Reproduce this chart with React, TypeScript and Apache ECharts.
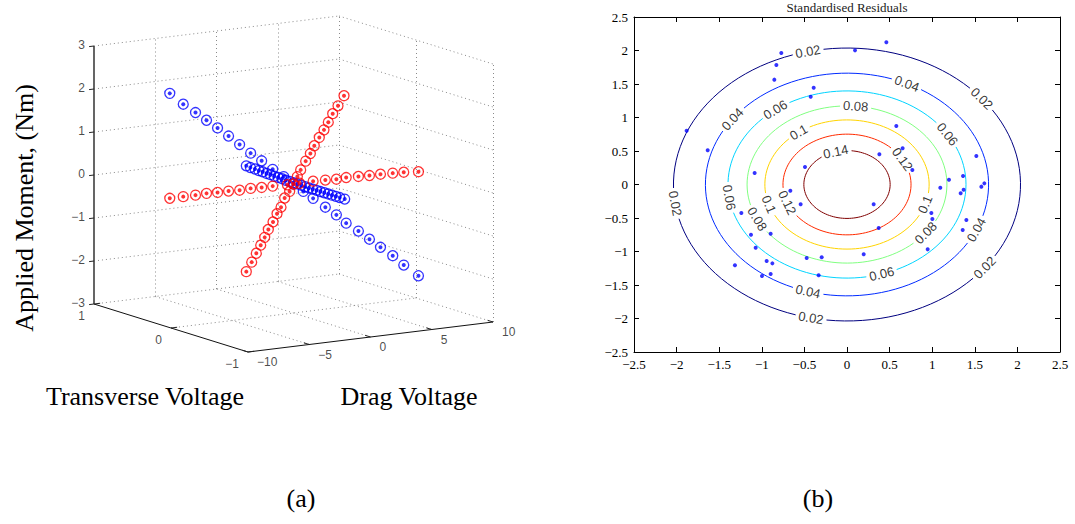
import React, { useEffect, useRef } from "react";
import * as echarts from "echarts";

// ---------------- Panel (a): 3-D calibration data ----------------
const zTicks = [-3, -2, -1, 0, 1, 2, 3];
const dragTicks = [-10, -5, 0, 5, 10];
const transTicks = [-1, 0, 1];

// red: drag-voltage sweep (moment ~ 0)
const redDragSweepDrag = [-10.1, -9.0, -8.0, -7.1, -6.2, -5.3, -4.4, -3.5, -2.6, -1.7, 1.6, 2.6, 3.5, 4.3, 5.3, 6.2, 7.1, 8.1, 9.0, 10.2];
const redDragSweepZ = [0.02, 0.02, 0.02, 0.03, 0.02, 0.02, 0.01, 0.02, 0.01, 0.01, 0.01, 0, -0.01, 0, -0.01, -0.02, -0.02, -0.03, -0.04, -0.07];
// red: transverse-voltage sweep
const redTransSweepTrans = [0.613, 0.543, 0.483, 0.426, 0.374, 0.327, 0.266, 0.214, 0.162, 0.115, -0.093, -0.158, -0.219, -0.27, -0.335, -0.396, -0.452, -0.509, -0.578, -0.656];
const redTransSweepZ = [-2.38, -2.12, -1.88, -1.66, -1.45, -1.24, -1.03, -0.81, -0.63, -0.39, 0.38, 0.62, 0.83, 1.04, 1.27, 1.48, 1.69, 1.92, 2.14, 2.42];
// red: points near the origin
const redCentreDrag = [-0.5, 0, 0.5, 0, 0];
const redCentreTrans = [0, 0, 0, 0.05, -0.05];
const redCentreZ = [0, 0, 0, -0.2, 0.2];

// blue: drag-voltage sweep
const blueDragSweepDrag = [-10.1, -9.0, -8.0, -7.1, -6.2, -5.3, -4.4, -3.5, -2.6, -1.7, -0.8, 0, 0.8, 1.6, 2.6, 3.5, 4.3, 5.3, 6.2, 7.1, 8.1, 9.0, 10.2];
const blueDragSweepZ = [2.46, 2.17, 1.94, 1.73, 1.52, 1.3, 1.07, 0.84, 0.63, 0.4, 0.2, 0, -0.2, -0.39, -0.63, -0.84, -1.06, -1.28, -1.5, -1.72, -1.95, -2.2, -2.49];
// blue: transverse-voltage sweep (moment ~ 0)
const blueTransSweepTrans = [0.613, 0.56, 0.5, 0.45, 0.4, 0.35, 0.3, 0.25, 0.2, 0.15, 0.1, 0.05, 0, -0.05, -0.1, -0.15, -0.2, -0.25, -0.3, -0.35, -0.4, -0.45, -0.5, -0.55, -0.6, -0.665];
const blueTransSweepZ = [0.08, 0.07, 0.07, 0.06, 0.06, 0.05, 0.05, 0.04, 0.04, 0.04, 0.03, 0.03, 0.03, 0.03, 0.03, 0.02, 0.02, 0.02, 0.02, 0.02, 0.02, 0.02, 0.02, 0.02, 0.02, 0.02];

// ---------------- Panel (b): standardised residuals ----------------
const levels = [0.02, 0.04, 0.06, 0.08, 0.1, 0.12, 0.14];
const levelColors = ["#000080", "#002bff", "#00d4ff", "#80ff80", "#ffd400", "#ff2b00", "#800000"];
const labelAngles = [
  [103, 39, 188, 258, 322.5],
  [65, 144, 254, 336],
  [127, 32.5, 188, 287],
  [85, 206, 322],
  [126, 342, 198],
  [30, 201],
  [105],
];
const residX = [-0.771, -0.829, -0.853, -0.391, -0.426, 0.094, 0.462, -1.882, -1.635, 0.579, 0.653, 0.38, -0.493, 0.767, -1.084, -0.665, -0.544, 0.313, 0.372, -1.24, -1.127, -0.896, -1.072, -1.315, -0.943, -0.876, -0.998, -0.896, -0.473, -0.297, -0.333, 0.196, 0.947, 0.99, 1.002, 1.095, 1.197, 1.362, 1.369, 1.334, 1.518, 1.577, 1.612, 1.401, 1.358];
const residY = [1.963, 1.784, 1.565, 1.445, 1.311, 2.002, 2.122, 0.803, 0.51, 0.873, 0.54, 0.45, 0.261, 0.216, 0.172, -0.092, -0.296, -0.296, -0.649, -0.425, -0.749, -0.734, -0.943, -1.206, -1.142, -1.177, -1.366, -1.336, -1.097, -1.087, -1.356, -1.042, -0.968, -0.425, -0.515, -0.047, 0.072, 0.127, -0.077, -0.132, 0.425, -0.032, 0.017, -0.53, -0.679];
const resTicks = [-2.5, 2.5, 0.5]; // min, max, step

// ---------------- layout constants ----------------
const LEFT_W = 540;
const PAGE_H = 524;
const G1 = { left: 634, top: 17, width: 426, height: 335 };

// orthographic camera for the 3-D box: pixel position of corner (drag=-10, trans=1, z=-3)
// and screen vectors spanning the full drag range, trans 1 -> -1, and the full z range
const CAM = { ox: 94, oy: 304, drag: [245, -30], trans: [154, 48], z: [0, -258] };
const proj = (d: number, t: number, z: number): number[] => {
  const fd = (d + 10) / 20, ft = (1 - t) / 2, fz = (z + 3) / 6;
  return [
    CAM.ox + fd * CAM.drag[0] + ft * CAM.trans[0] + fz * CAM.z[0],
    CAM.oy + fd * CAM.drag[1] + ft * CAM.trans[1] + fz * CAM.z[1],
  ];
};

const fmtMinus = (v: number) => (v < 0 ? "\u2212" + Math.abs(v) : String(v));

export default function App() {
  const ref = useRef<HTMLDivElement>(null);
  useEffect(() => {
    if (!ref.current) return;
    const chart = echarts.init(ref.current, undefined, { renderer: "svg" });

    // ---- 3-D box lines ----
    const seg = (a: number[], b: number[]) => ({ coords: [proj(a[0], a[1], a[2]), proj(b[0], b[1], b[2])] });
    const dotted: any[] = [];
    zTicks.forEach((z) => {
      dotted.push(seg([-10, 1, z], [10, 1, z]));
      dotted.push(seg([10, 1, z], [10, -1, z]));
    });
    dragTicks.filter((d) => d > -10).forEach((d) => {
      dotted.push(seg([d, 1, -3], [d, 1, 3]));
      if (d < 10) dotted.push(seg([d, 1, -3], [d, -1, -3]));
    });
    transTicks.filter((t) => t < 1).forEach((t) => {
      dotted.push(seg([10, t, -3], [10, t, 3]));
      if (t > -1) dotted.push(seg([-10, t, -3], [10, t, -3]));
    });
    const axesSolid = [seg([-10, 1, -3], [-10, -1, -3]), seg([-10, -1, -3], [10, -1, -3])];
    const zAxisLine = [seg([-10, 1, -3], [-10, 1, 3])];
    const ticks: any[] = [];
    zTicks.forEach((z) => ticks.push(seg([-10.4, 1, z], [-10, 1, z])));
    transTicks.forEach((t) => ticks.push(seg([-10, t, -3], [-9.5, t, -3])));
    dragTicks.forEach((d) => ticks.push(seg([d, -1, -3], [d, -0.93, -3])));

    const tickLabels: any[] = [];
    zTicks.forEach((z) => tickLabels.push({ value: proj(-10, 1, z), label: { formatter: fmtMinus(z), align: "right", offset: [-9, -1] } }));
    transTicks.forEach((t) => tickLabels.push({ value: proj(-10, t, -3), label: { formatter: fmtMinus(t), align: "right", offset: [-9, 12] } }));
    dragTicks.forEach((d) => tickLabels.push({ value: proj(d, -1, -3), label: { formatter: fmtMinus(d), align: "left", offset: [9, 10] } }));

    const pts = (ds: number[], ts: number[], zs: number[]) => ds.map((d, i) => proj(d, ts[i], zs[i]));
    const zeros = (n: number) => new Array(n).fill(0);
    const bluePts = [
      ...pts(blueDragSweepDrag, zeros(blueDragSweepDrag.length), blueDragSweepZ),
      ...pts(zeros(blueTransSweepTrans.length), blueTransSweepTrans, blueTransSweepZ),
    ];
    const redPts = [
      ...pts(redDragSweepDrag, zeros(redDragSweepDrag.length), redDragSweepZ),
      ...pts(zeros(redTransSweepTrans.length), redTransSweepTrans, redTransSweepZ),
      ...pts(redCentreDrag, redCentreTrans, redCentreZ),
    ];

    // ---- contours of the standard bivariate normal density ----
    const sx = G1.width / (resTicks[1] - resTicks[0]);
    const sy = G1.height / (resTicks[1] - resTicks[0]);
    const contourLines: any[] = [];
    const contourLabels: any[] = [];
    levels.forEach((L, li) => {
      const r = Math.sqrt(-2 * Math.log(2 * Math.PI * L));
      const text = String(L);
      const digits = text.replace(".", "").length;
      const halfW = (digits * 7.23 + 3.61) / 2 + 3;
      const gaps = labelAngles[li]
        .map((a) => ((a % 360) + 360) % 360)
        .sort((a, b) => a - b)
        .map((a) => {
          const th = (a * Math.PI) / 180;
          const speed = r * Math.sqrt(Math.pow(Math.sin(th) * sx, 2) + Math.pow(Math.cos(th) * sy, 2));
          return { th, del: halfW / speed };
        });
      gaps.forEach((g, gi) => {
        const next = gaps[(gi + 1) % gaps.length];
        const a0 = g.th + g.del;
        let a1 = next.th - next.del;
        if (a1 <= a0) a1 += 2 * Math.PI;
        const n = Math.max(2, Math.ceil((a1 - a0) / (Math.PI / 60)));
        const coords: number[][] = [];
        for (let k = 0; k <= n; k++) {
          const a = a0 + ((a1 - a0) * k) / n;
          coords.push([r * Math.cos(a), r * Math.sin(a)]);
        }
        contourLines.push({ coords, lineStyle: { color: levelColors[li] } });
        let rot = (Math.atan2(Math.cos(g.th) * sy, -Math.sin(g.th) * sx) * 180) / Math.PI;
        if (rot > 90) rot -= 180;
        if (rot <= -90) rot += 180;
        contourLabels.push({ value: [r * Math.cos(g.th), r * Math.sin(g.th)], label: { formatter: text, rotate: rot } });
      });
    });

    const resAxisCommon = {
      type: "value",
      gridIndex: 1,
      min: resTicks[0],
      max: resTicks[1],
      interval: resTicks[2],
      axisLine: { show: true, onZero: false, lineStyle: { color: "#000", width: 1 } },
      axisTick: { show: true, inside: true, length: 5, lineStyle: { color: "#000" } },
      splitLine: { show: false },
    };
    const resLabel = { show: true, color: "#000", fontFamily: "Liberation Serif", fontSize: 13, formatter: (v: number) => fmtMinus(v), showMinLabel: true, showMaxLabel: true };

    chart.setOption({
      animation: false,
      backgroundColor: "#fff",
      grid: [
        { left: 0, top: 0, width: LEFT_W, height: PAGE_H },
        { left: G1.left, top: G1.top, width: G1.width, height: G1.height },
      ],
      xAxis: [
        { type: "value", gridIndex: 0, min: 0, max: LEFT_W, show: false },
        { ...resAxisCommon, position: "bottom", axisLabel: { ...resLabel, margin: 6 } },
        { ...resAxisCommon, position: "top", axisLabel: { show: false } },
      ],
      yAxis: [
        { type: "value", gridIndex: 0, min: 0, max: PAGE_H, inverse: true, show: false },
        { ...resAxisCommon, position: "left", axisLabel: { ...resLabel, margin: 6 } },
        { ...resAxisCommon, position: "right", axisLabel: { show: false } },
      ],
      series: [
        { type: "lines", coordinateSystem: "cartesian2d", xAxisIndex: 0, yAxisIndex: 0, silent: true, data: dotted, lineStyle: { color: "#8a8a8a", width: 1, type: [1, 3], opacity: 1 } },
        { type: "lines", coordinateSystem: "cartesian2d", xAxisIndex: 0, yAxisIndex: 0, silent: true, data: axesSolid, lineStyle: { color: "#111", width: 1, opacity: 1 } },
        { type: "lines", coordinateSystem: "cartesian2d", xAxisIndex: 0, yAxisIndex: 0, silent: true, data: zAxisLine, lineStyle: { color: "#555", width: 1.8, opacity: 1 } },
        { type: "lines", coordinateSystem: "cartesian2d", xAxisIndex: 0, yAxisIndex: 0, silent: true, data: ticks, lineStyle: { color: "#222", width: 1, opacity: 1 } },
        {
          type: "scatter", xAxisIndex: 0, yAxisIndex: 0, silent: true, symbolSize: 1,
          itemStyle: { color: "rgba(0,0,0,0)" },
          label: { show: true, position: "inside", verticalAlign: "middle", fontFamily: "Liberation Sans", fontSize: 12, color: "#1a1a1a" },
          data: tickLabels,
        },
        { type: "scatter", xAxisIndex: 0, yAxisIndex: 0, silent: true, symbol: "circle", symbolSize: 10, itemStyle: { color: "rgba(0,0,0,0)", borderColor: "#0000ff", borderWidth: 1.3 }, data: bluePts },
        { type: "scatter", xAxisIndex: 0, yAxisIndex: 0, silent: true, symbol: "circle", symbolSize: 4, itemStyle: { color: "#0000ff" }, data: bluePts },
        { type: "scatter", xAxisIndex: 0, yAxisIndex: 0, silent: true, symbol: "circle", symbolSize: 10, itemStyle: { color: "rgba(0,0,0,0)", borderColor: "#ff0000", borderWidth: 1.3 }, data: redPts },
        { type: "scatter", xAxisIndex: 0, yAxisIndex: 0, silent: true, symbol: "circle", symbolSize: 4, itemStyle: { color: "#ff0000" }, data: redPts },
        // panel (b)
        { type: "lines", coordinateSystem: "cartesian2d", xAxisIndex: 1, yAxisIndex: 1, polyline: true, silent: true, data: contourLines, lineStyle: { width: 1, opacity: 1 } },
        {
          type: "scatter", xAxisIndex: 1, yAxisIndex: 1, silent: true, symbolSize: 1,
          itemStyle: { color: "rgba(0,0,0,0)" },
          label: { show: true, position: "inside", align: "center", verticalAlign: "middle", fontFamily: "Liberation Sans", fontSize: 13, color: "#000" },
          data: contourLabels,
        },
        { type: "scatter", xAxisIndex: 1, yAxisIndex: 1, silent: true, symbol: "circle", symbolSize: 4, itemStyle: { color: "#0000ff" }, data: residX.map((x, i) => [x, residY[i]]) },
      ],
      graphic: [
        { type: "text", x: 24, y: 208, rotation: Math.PI / 2, style: { text: "Applied Moment, (Nm)", font: "26px 'Liberation Serif'", fill: "#000", align: "center", verticalAlign: "middle" } },
        { type: "text", x: 145, y: 396, style: { text: "Transverse Voltage", font: "26px 'Liberation Serif'", fill: "#000", align: "center", verticalAlign: "middle" } },
        { type: "text", x: 409, y: 396, style: { text: "Drag Voltage", font: "26px 'Liberation Serif'", fill: "#000", align: "center", verticalAlign: "middle" } },
        { type: "text", x: 301, y: 498, style: { text: "(a)", font: "26px 'Liberation Serif'", fill: "#000", align: "center", verticalAlign: "middle" } },
        { type: "text", x: 818, y: 498, style: { text: "(b)", font: "26px 'Liberation Serif'", fill: "#000", align: "center", verticalAlign: "middle" } },
        { type: "text", x: 847, y: 7, style: { text: "Standardised Residuals", font: "13px 'Liberation Serif'", fill: "#222", align: "center", verticalAlign: "middle" } },
      ],
    });
    return () => chart.dispose();
  }, []);
  return <div ref={ref} style={{ position: "absolute", left: 0, top: 0, width: 1075, height: 524 }} />;
}
